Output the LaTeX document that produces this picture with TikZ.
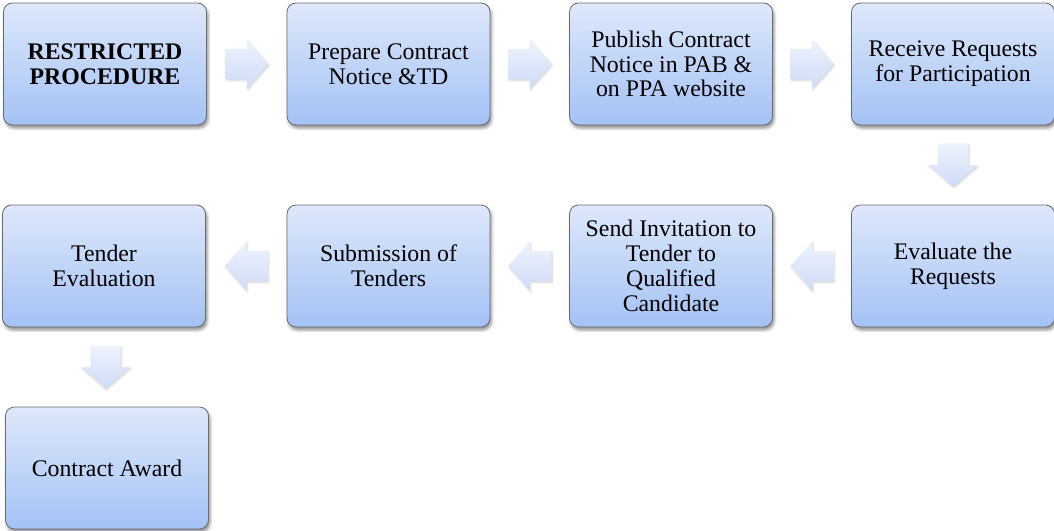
\documentclass[tikz,border=0pt]{standalone}
\usepackage{fontspec}
\setmainfont{Liberation Serif}
\usetikzlibrary{calc,shadows.blur}

\definecolor{boxtop}{RGB}{222,232,251}
\definecolor{boxbot}{RGB}{164,194,245}
\definecolor{boxline}{RGB}{105,105,110}
\definecolor{arrtop}{RGB}{238,243,253}
\definecolor{arrbot}{RGB}{206,220,247}

\tikzset{
  stepbox/.style={
    draw=boxline, line width=0.8pt, rounded corners=9pt,
    top color=boxtop, bottom color=boxbot,
    minimum width=203pt, minimum height=122pt,
    align=center,
    font=\fontsize{23.8}{24.8}\selectfont,
    blur shadow={shadow xshift=1.5pt, shadow yshift=-3pt,
                 shadow blur radius=3pt, shadow opacity=45}
  },
  arrowfill/.style={
    top color=arrtop, bottom color=arrbot, draw=none,
    blur shadow={shadow xshift=1pt, shadow yshift=-1.5pt,
                 shadow blur radius=2pt, shadow opacity=18}
  },
  arrR/.pic={\path[arrowfill] (-21.5,-15) -- (0,-15) -- (0,-24.5) -- (21.5,0)
      -- (0,24.5) -- (0,15) -- (-21.5,15) -- cycle;},
  arrL/.pic={\path[arrowfill] (21.5,-15) -- (0,-15) -- (0,-24.5) -- (-21.5,0)
      -- (0,24.5) -- (0,15) -- (21.5,15) -- cycle;},
  arrD/.pic={\path[arrowfill] (-15,-21.5) -- (15,-21.5) -- (15,0) -- (24.5,0)
      -- (0,21.5) -- (-24.5,0) -- (-15,0) -- cycle;}
}

\begin{document}
\begin{tikzpicture}[x=1pt, y=-1pt]
\useasboundingbox (0,0) rectangle (1054,530);

% first row
\node[stepbox] (n1) at (105,64)   {\textbf{RESTRICTED}\\\textbf{PROCEDURE}};
\node[stepbox] (n2) at (388.5,64) {Prepare Contract\\Notice \&TD};
\node[stepbox] (n3) at (671,64)   {Publish Contract\\Notice in PAB \&\\on PPA website};
\node[stepbox] (n4) at (953,64)   {Receive Requests\\for Participation};

% second row
\node[stepbox] (n5) at (953,266)   {Evaluate the\\Requests};
\node[stepbox] (n6) at (671,266)   {Send Invitation to\\Tender to\\Qualified\\Candidate};
\node[stepbox] (n7) at (388.5,266) {Submission of\\Tenders};
\node[stepbox] (n8) at (104,266)   {Tender\\Evaluation};

% last step
\node[stepbox] (n9) at (107,468) {Contract Award};

% block arrows between the steps
\pic at ($(n1.east)!0.5!(n2.west)$) {arrR};
\pic at ($(n2.east)!0.5!(n3.west)$) {arrR};
\pic at ($(n3.east)!0.5!(n4.west)$) {arrR};
\pic at ($(n4.south)!0.5!(n5.north)$) {arrD};
\pic at ($(n5.west)!0.5!(n6.east)$) {arrL};
\pic at ($(n6.west)!0.5!(n7.east)$) {arrL};
\pic at ($(n7.west)!0.5!(n8.east)$) {arrL};
\pic at ($(n8.south)!0.5!(n9.north)$) {arrD};
\end{tikzpicture}
\end{document}
